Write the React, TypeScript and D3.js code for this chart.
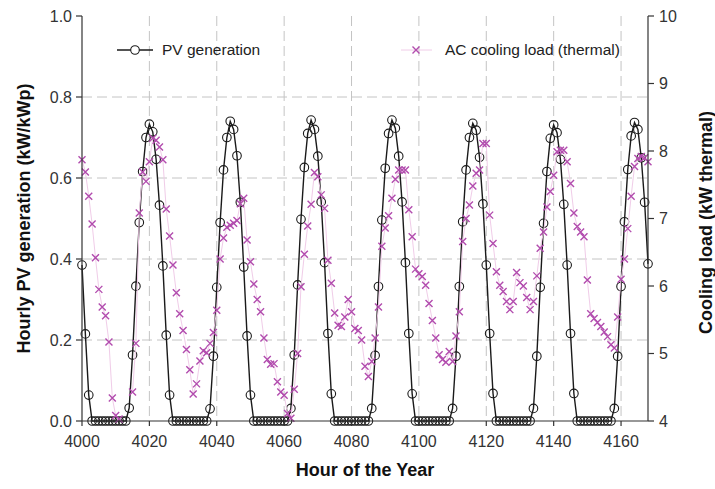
import React from 'react'
import * as d3 from 'd3'

// hour index 4000 ... 4168
const hourStart = 4000
const hourEnd = 4168

// hourly PV generation (kW/kWp), one row per day segment
const pvGeneration: number[] = [
  0.385, 0.215, 0.064,
  0, 0, 0, 0, 0, 0, 0, 0, 0, 0, 0,
  0.032, 0.163, 0.333, 0.49, 0.616, 0.7, 0.733, 0.714, 0.646, 0.533, 0.383, 0.212, 0.064,
  0, 0, 0, 0, 0, 0, 0, 0, 0, 0, 0,
  0.03, 0.16, 0.33, 0.49, 0.62, 0.7, 0.74, 0.72, 0.655, 0.54, 0.38, 0.21, 0.064,
  0, 0, 0, 0, 0, 0, 0, 0, 0, 0, 0,
  0.031, 0.163, 0.336, 0.498, 0.626, 0.71, 0.743, 0.72, 0.654, 0.541, 0.391, 0.216, 0.067,
  0, 0, 0, 0, 0, 0, 0, 0, 0, 0, 0,
  0.031, 0.162, 0.332, 0.496, 0.624, 0.71, 0.743, 0.723, 0.654, 0.541, 0.391, 0.216, 0.067,
  0, 0, 0, 0, 0, 0, 0, 0, 0, 0, 0,
  0.031, 0.16, 0.332, 0.492, 0.62, 0.7, 0.735, 0.718, 0.651, 0.536, 0.385, 0.216, 0.068,
  0, 0, 0, 0, 0, 0, 0, 0, 0, 0, 0,
  0.031, 0.16, 0.33, 0.488, 0.616, 0.698, 0.731, 0.712, 0.646, 0.535, 0.385, 0.216, 0.068,
  0, 0, 0, 0, 0, 0, 0, 0, 0, 0, 0,
  0.031, 0.16, 0.332, 0.492, 0.621, 0.704, 0.737, 0.72, 0.65, 0.54, 0.388,
]

// AC cooling load (kW thermal), null = below the axis
const coolingLoad: (number | null)[] = [
  7.87, 7.69, 7.33, 6.92, 6.42, 5.95, 5.69, 5.56, 5.17, 4.34, // 4000
  4.08, 4.03, null, null, null, 4.43, 5.15, 7.08, 7.69, 7.55, // 4010
  7.84, 8.19, 8.16, 8.06, 7.87, 7.14, 6.74, 6.31, 5.9, 5.59, // 4020
  5.34, 5.06, 4.76, 4.4, 4.55, 4.89, 5.04, 5.01, 5.15, 5.31, // 4030
  5.64, 6.4, 6.71, 6.87, 6.9, 6.93, 6.97, 7.22, 7.3, 6.68, // 4040
  6.36, 6.03, 5.8, 5.62, 5.23, 4.91, 4.84, 4.85, 4.58, 4.43, // 4050
  4.38, 4.11, 4.04, 4.47, 5.0, 5.99, 6.47, 6.89, 7.21, 7.68, // 4060
  7.62, 7.35, 7.15, 6.38, 6.04, 5.6, 5.42, 5.4, 5.54, 5.8, // 4070
  5.62, 5.37, 5.34, 5.2, 4.81, 4.66, 4.88, 5.23, 5.69, 6.59, // 4080
  6.86, 7.04, 7.3, 7.58, 7.72, 7.72, 7.72, 7.13, 6.73, 6.25, // 4090
  6.18, 6.14, 6.01, 5.74, 5.49, 5.23, 4.98, 4.91, 4.87, 5.03, // 4100
  4.88, 5.26, 5.62, 6.66, 7.0, 7.2, 7.48, 7.67, 7.72, 8.11, // 4110
  8.11, 7.05, 6.63, 6.21, 6.01, 5.92, 5.77, 5.65, 5.77, 6.2, // 4120
  6.05, 6.0, 5.83, 5.65, 5.77, 6.15, 6.56, 6.8, 7.17, 7.4, // 4130
  7.64, 7.99, 8.01, 8.01, 7.84, 7.52, 7.08, 6.88, 6.8, 6.73, // 4140
  6.09, 5.59, 5.52, 5.46, 5.4, 5.32, 5.25, 5.13, 5.08, 5.54, // 4150
  6.1, 6.4, 6.85, 7.33, 7.77, 7.89, 7.92, 7.9, 7.84, // 4160
]

const xTicks = [4000, 4020, 4040, 4060, 4080, 4100, 4120, 4140, 4160]
const pvTicks = [0, 0.2, 0.4, 0.6, 0.8, 1.0]
const coolTicks = [4, 5, 6, 7, 8, 9, 10]

const W = 715
const H = 489
const m = { l: 82, r: 67, t: 16, b: 68 }
const font = '"Liberation Sans", Arial, sans-serif'
const pink = '#b24cae'

export default function App() {
  const hours = pvGeneration.map((_, i) => hourStart + i)
  const x = d3.scaleLinear().domain([hourStart, hourEnd]).range([m.l, W - m.r])
  const yPv = d3.scaleLinear().domain([0, 1]).range([H - m.b, m.t])
  const yCool = d3.scaleLinear().domain([4, 10]).range([H - m.b, m.t])

  const pvLine = d3.line<number>().x((_, i) => x(hours[i])).y(d => yPv(d))
  const coolLine = d3.line<number | null>()
    .defined(d => d !== null)
    .x((_, i) => x(hourStart + i))
    .y(d => yCool(d as number))

  const x0 = m.l, x1 = W - m.r, y0 = H - m.b, y1 = m.t
  const cross = 'M-3.5,-3.5L3.5,3.5M-3.5,3.5L3.5,-3.5'

  return (
    <svg width={W} height={H} style={{ position: 'absolute', left: 0, top: 0, background: '#fff' }} fontFamily={font}>
      {/* grid */}
      <g stroke='#c4c4c4' strokeWidth={1} strokeDasharray='10,5'>
        {pvTicks.filter(t => t > 0 && t < 1).map(t => (
          <line key={'h' + t} x1={x0} x2={x1} y1={yPv(t)} y2={yPv(t)} />
        ))}
        {xTicks.filter(t => t > hourStart).map(t => (
          <line key={'v' + t} x1={x(t)} x2={x(t)} y1={y1} y2={y0} />
        ))}
      </g>

      {/* PV generation */}
      <path d={pvLine(pvGeneration) ?? ''} fill='none' stroke='#1a1a1a' strokeWidth={1.4} />
      <g fill='none' stroke='#1a1a1a' strokeWidth={1.1}>
        {pvGeneration.map((d, i) => (
          <circle key={i} cx={x(hours[i])} cy={yPv(d)} r={4.3} />
        ))}
      </g>

      {/* cooling load */}
      <path d={coolLine(coolingLoad) ?? ''} fill='none' stroke='#f0cce8' strokeWidth={1} />
      <g stroke={pink} strokeWidth={1.4} fill='none'>
        {coolingLoad.map((d, i) => d === null ? null : (
          <path key={i} d={cross} transform={`translate(${x(hourStart + i)},${yCool(d)})`} />
        ))}
      </g>

      {/* axes */}
      <g stroke='#333' strokeWidth={1.2}>
        <line x1={x0} x2={x0} y1={y1} y2={y0} />
        <line x1={x1} x2={x1} y1={y1} y2={y0} />
        <line x1={x0} x2={x1} y1={y0} y2={y0} />
        {pvTicks.map(t => <line key={'lt' + t} x1={x0 - 6} x2={x0} y1={yPv(t)} y2={yPv(t)} />)}
        {coolTicks.map(t => <line key={'rt' + t} x1={x1} x2={x1 + 6} y1={yCool(t)} y2={yCool(t)} />)}
        {xTicks.map(t => <line key={'bt' + t} x1={x(t)} x2={x(t)} y1={y0} y2={y0 + 5} />)}
      </g>
      <g fill='#333' fontSize={16}>
        {pvTicks.map(t => (
          <text key={t} x={x0 - 10} y={yPv(t)} dy='0.35em' textAnchor='end'>{d3.format('.1f')(t)}</text>
        ))}
        {coolTicks.map(t => (
          <text key={t} x={x1 + 11} y={yCool(t)} dy='0.35em'>{t}</text>
        ))}
        {xTicks.map(t => (
          <text key={t} x={x(t)} y={y0 + 20} dy='0.35em' textAnchor='middle'>{t}</text>
        ))}
      </g>

      {/* titles */}
      <g fontWeight='bold' fontSize={18} fill='#111' textAnchor='middle'>
        <text x={(x0 + x1) / 2} y={470} dy='0.35em'>Hour of the Year</text>
        <text transform={`translate(24,${(y0 + y1) / 2}) rotate(-90)`} dy='0.35em'>Hourly PV generation (kW/kWp)</text>
        <text transform={`translate(706,${(y0 + y1) / 2 + 4}) rotate(-90)`} dy='0.35em'>Cooling load (kW thermal)</text>
      </g>

      {/* legend */}
      <g fontSize={15.5} fill='#222'>
        <line x1={117} x2={153} y1={50} y2={50} stroke='#1a1a1a' strokeWidth={1.4} />
        <circle cx={135} cy={50} r={4.3} fill='#fff' stroke='#1a1a1a' strokeWidth={1.1} />
        <text x={162} y={50} dy='0.35em'>PV generation</text>
        <line x1={401} x2={432} y1={50} y2={50} stroke='#f0cce8' strokeWidth={1} />
        <path d={cross} transform='translate(416,50)' stroke={pink} strokeWidth={1.4} />
        <text x={445} y={50} dy='0.35em'>AC cooling load (thermal)</text>
      </g>
    </svg>
  )
}
